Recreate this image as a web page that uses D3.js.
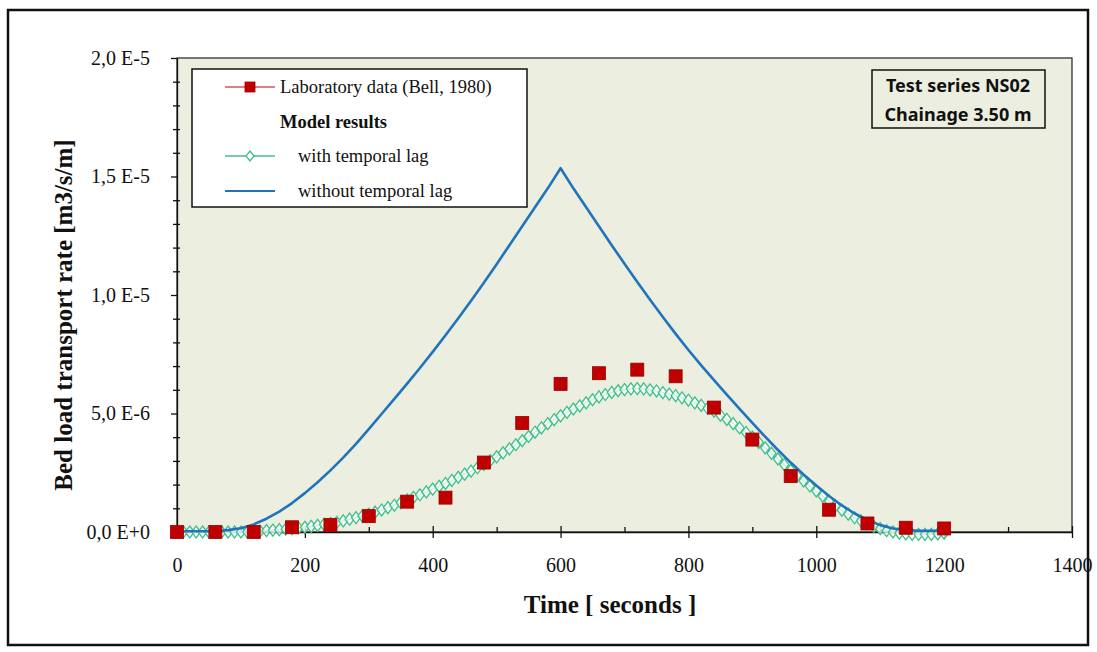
<!DOCTYPE html>
<html>
<head>
<meta charset="utf-8">
<script src="https://cdn.jsdelivr.net/npm/d3@7"></script>
<style>
body { margin: 0; background: #fff; }
svg { display: block; }
.axis text { font-family: "Liberation Serif", "Times New Roman", serif; font-size: 20px; fill: #111; }
.axis path, .axis line { stroke: #111; stroke-width: 1.3; }
.serif { font-family: "Liberation Serif", "Times New Roman", serif; fill: #111; }
</style>
</head>
<body>
<svg id="chart" width="1097" height="652"></svg>
<script>
// laboratory data (Bell, 1980) - rate in 1e-6 m3/s/m
var labTime = [0, 60, 120, 180, 240, 300, 360, 420, 480, 540, 600,
               660, 720, 780, 840, 900, 960, 1020, 1080, 1140, 1200];
var labRate = [0, 0, 0, 0.2, 0.3, 0.67, 1.28, 1.45, 2.93, 4.6, 6.25,
               6.7, 6.85, 6.57, 5.25, 3.9, 2.36, 0.94, 0.36, 0.18, 0.15];

// model with temporal lag, one value every 10 s (1e-6)
var lagStep = 10;
var lagRate = [0, 0, 0, 0, 0, 0, 0, 0, 0, 0, 0,
    0, 0.02, 0.04, 0.06, 0.08, 0.1, 0.12, 0.14, 0.17, 0.2,
    0.24, 0.28, 0.32, 0.36, 0.41, 0.47, 0.54, 0.61, 0.68, 0.75,
    0.84, 0.93, 1.03, 1.13, 1.24, 1.35, 1.46, 1.57, 1.69, 1.81,
    1.93, 2.05, 2.18, 2.31, 2.44, 2.57, 2.71, 2.85, 3.01, 3.17,
    3.34, 3.51, 3.68, 3.85, 4.03, 4.21, 4.39, 4.57, 4.74, 4.9,
    5.05, 5.19, 5.32, 5.45, 5.58, 5.7, 5.8, 5.89, 5.96, 6.01,
    6.04, 6.05, 6.04, 6.0, 5.95, 5.88, 5.82, 5.75, 5.66, 5.56,
    5.45, 5.34, 5.22, 5.1, 4.93, 4.75, 4.57, 4.39, 4.2, 4.0,
    3.78, 3.55, 3.32, 3.08, 2.84, 2.6, 2.38, 2.16, 1.94, 1.73,
    1.51, 1.3, 1.1, 0.92, 0.75, 0.6, 0.47, 0.35, 0.24, 0.14,
    0.06, 0, -0.05, -0.08, -0.1, -0.1, -0.1, -0.1, -0.08, -0.05];

// model without temporal lag, one value every 20 s (1e-6)
var noLagStep = 20;
var noLagRate = [0.03, 0.03, 0.03, 0.03, 0.08, 0.16, 0.32, 0.56, 0.86, 1.22,
    1.64, 2.1, 2.6, 3.14, 3.72, 4.34, 4.98, 5.62, 6.26, 6.92,
    7.6, 8.3, 9.02, 9.76, 10.52, 11.3, 12.1, 12.9, 13.7, 14.5,
    15.35, 14.5, 13.7, 12.9, 12.1, 11.32, 10.55, 9.8, 9.07, 8.36,
    7.68, 7.03, 6.41, 5.8, 5.2, 4.6, 4.02, 3.46, 2.93, 2.43,
    1.96, 1.52, 1.12, 0.78, 0.5, 0.29, 0.15, 0.08, 0.05, 0.05, 0.05];

var xTicks = [0, 200, 400, 600, 800, 1000, 1200, 1400];
var xMinor = [100, 300, 500, 700, 900, 1100, 1300];
var yTicks = [0, 5e-6, 1e-5, 1.5e-5, 2e-5];
var yTickLabels = ["0,0 E+0", "5,0 E-6", "1,0 E-5", "1,5 E-5", "2,0 E-5"];
var yMinor = [1e-6, 2e-6, 3e-6, 4e-6, 6e-6, 7e-6, 8e-6, 9e-6, 1.1e-5, 1.2e-5,
              1.3e-5, 1.4e-5, 1.6e-5, 1.7e-5, 1.8e-5, 1.9e-5];

var svg = d3.select("#chart");
var x = d3.scaleLinear().domain([0, 1400]).range([177, 1072]);
var y = d3.scaleLinear().domain([0, 2e-5]).range([532, 58]);

// outer frame
svg.append("rect")
    .attr("x", 8).attr("y", 10).attr("width", 1080).attr("height", 635)
    .attr("fill", "#fff").attr("stroke", "#111").attr("stroke-width", 2.5);

// plot area
svg.append("rect")
    .attr("x", x(0)).attr("y", y(2e-5))
    .attr("width", x(1400) - x(0)).attr("height", y(0) - y(2e-5))
    .attr("fill", "#ECEEDF").attr("stroke", "#222").attr("stroke-width", 1.2);

// x axis
var xg = svg.append("g").attr("class", "axis").attr("transform", "translate(0," + y(0) + ")");
xg.call(d3.axisBottom(x).tickValues(xTicks).tickSize(6).tickSizeOuter(0).tickPadding(20)
    .tickFormat(function(d) { return String(d); }));
xg.append("g").call(d3.axisBottom(x).tickValues(xTicks).tickSize(-6).tickFormat(""))
    .select(".domain").remove();
xg.append("g").call(d3.axisBottom(x).tickValues(xMinor).tickSize(-5).tickFormat(""))
    .select(".domain").remove();

// y axis
var yg = svg.append("g").attr("class", "axis").attr("transform", "translate(" + x(0) + ",0)");
yg.call(d3.axisLeft(y).tickValues(yTicks).tickSize(6).tickSizeOuter(0).tickPadding(21)
    .tickFormat(function(d, i) { return yTickLabels[i]; }));
yg.append("g").call(d3.axisLeft(y).tickValues(yMinor).tickSize(4).tickFormat(""))
    .select(".domain").remove();
yg.append("g").call(d3.axisLeft(y).tickValues(yMinor).tickSize(-3).tickFormat(""))
    .select(".domain").remove();

// axis titles
svg.append("text").attr("class", "serif")
    .attr("x", 610).attr("y", 613)
    .attr("text-anchor", "middle")
    .style("font-size", "25px").style("font-weight", "bold")
    .text("Time [ seconds ]");
svg.append("text").attr("class", "serif")
    .attr("transform", "translate(72,315) rotate(-90)")
    .attr("text-anchor", "middle")
    .style("font-size", "25px").style("font-weight", "bold")
    .text("Bed load transport rate [m3/s/m]");

// tall hollow diamond like the original marker
function diamond(w, h) {
    return "M0," + (-h) + "L" + w + ",0L0," + h + "L" + (-w) + ",0Z";
}
var green = "#3FBF8C", blue = "#1F74BD", red = "#C00000";

// with temporal lag (hollow diamonds)
var lagData = lagRate.map(function(v, i) { return { t: i * lagStep, v: v * 1e-6 }; });
svg.append("path")
    .datum(lagData)
    .attr("fill", "none").attr("stroke", green).attr("stroke-width", 1.5)
    .attr("d", d3.line().x(function(d) { return x(d.t); }).y(function(d) { return y(d.v); })
        .curve(d3.curveMonotoneX));
svg.append("g").selectAll("path")
    .data(lagData).enter().append("path")
    .attr("transform", function(d) { return "translate(" + x(d.t) + "," + y(d.v) + ")"; })
    .attr("d", diamond(4.5, 6))
    .attr("fill", "#fff").attr("fill-opacity", 0.75)
    .attr("stroke", green).attr("stroke-width", 1.3);

// without temporal lag
var noLagData = noLagRate.map(function(v, i) { return { t: i * noLagStep, v: v * 1e-6 }; });
svg.append("path")
    .datum(noLagData)
    .attr("fill", "none").attr("stroke", blue).attr("stroke-width", 2.6)
    .attr("stroke-linejoin", "round")
    .attr("d", d3.line().x(function(d) { return x(d.t); }).y(function(d) { return y(d.v); }));

// lab data
svg.append("g").selectAll("rect")
    .data(labTime).enter().append("rect")
    .attr("x", function(d) { return x(d) - 6.5; })
    .attr("y", function(d, i) { return y(labRate[i] * 1e-6) - 6.5; })
    .attr("width", 13).attr("height", 13)
    .attr("fill", red).attr("stroke", "#9A0000").attr("stroke-width", 0.8);

// legend
var lg = svg.append("g");
lg.append("rect")
    .attr("x", 192).attr("y", 69).attr("width", 335).attr("height", 138)
    .attr("fill", "#fff").attr("stroke", "#111").attr("stroke-width", 1.5);
lg.append("line").attr("x1", 225).attr("x2", 275).attr("y1", 87).attr("y2", 87)
    .attr("stroke", red).attr("stroke-width", 1.2);
lg.append("rect").attr("x", 245).attr("y", 82).attr("width", 10).attr("height", 10)
    .attr("fill", red).attr("stroke", "#9A0000").attr("stroke-width", 0.8);
lg.append("text").attr("class", "serif").attr("x", 280).attr("y", 93)
    .style("font-size", "18.5px").text("Laboratory data (Bell, 1980)");
lg.append("text").attr("class", "serif").attr("x", 280).attr("y", 128)
    .style("font-size", "18.5px").style("font-weight", "bold").text("Model results");
lg.append("line").attr("x1", 225).attr("x2", 275).attr("y1", 156).attr("y2", 156)
    .attr("stroke", green).attr("stroke-width", 1.5);
lg.append("path").attr("transform", "translate(250,156)").attr("d", diamond(4, 5))
    .attr("fill", "#fff").attr("stroke", green).attr("stroke-width", 1.3);
lg.append("text").attr("class", "serif").attr("x", 298).attr("y", 162)
    .style("font-size", "18.5px").text("with temporal lag");
lg.append("line").attr("x1", 225).attr("x2", 275).attr("y1", 191).attr("y2", 191)
    .attr("stroke", blue).attr("stroke-width", 2);
lg.append("text").attr("class", "serif").attr("x", 298).attr("y", 197)
    .style("font-size", "18.5px").text("without temporal lag");

// test series box
var tb = svg.append("g");
tb.append("rect")
    .attr("x", 872).attr("y", 70).attr("width", 173).attr("height", 58)
    .attr("fill", "none").attr("stroke", "#111").attr("stroke-width", 1.5);
tb.append("text").attr("x", 958).attr("y", 92).attr("text-anchor", "middle")
    .style("font-family", "'Noto Sans', sans-serif").style("font-size", "18px")
    .style("font-weight", "bold").attr("fill", "#111").text("Test series NS02");
tb.append("text").attr("x", 958).attr("y", 121).attr("text-anchor", "middle")
    .style("font-family", "'Noto Sans', sans-serif").style("font-size", "18px")
    .style("font-weight", "bold").attr("fill", "#111").text("Chainage 3.50 m");
</script>
</body>
</html>
